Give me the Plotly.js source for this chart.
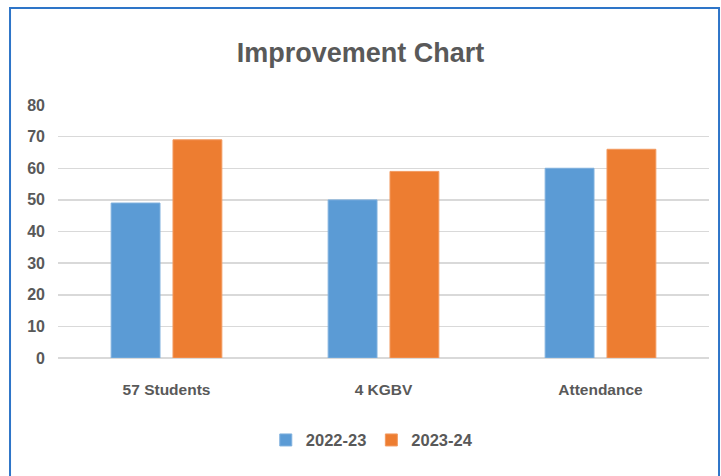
<!DOCTYPE html>
<html>
<head>
<meta charset="utf-8">
<script src="https://cdn.plot.ly/plotly-3.0.1.min.js"></script>
<style>
html,body{margin:0;padding:0;background:#fff;}
#chart{width:721px;height:476px;}
</style>
</head>
<body>
<div id="chart"></div>
<script>
const categories = ["57 Students", "4 KGBV", "Attendance"];
const seriesNames = ["2022-23", "2023-24"];
const values2022 = [49, 50, 60];
const values2023 = [69, 59, 66];
const yTicks = [0, 10, 20, 30, 40, 50, 60, 70, 80];

const FONT = '"Liberation Sans Narrow", "Liberation Sans", Arial, sans-serif';
const GREY = '#595959';

const traces = [
  {type:'bar', name:'<b>'+seriesNames[0]+'</b>', x:categories, y:values2022,
   marker:{color:'#5B9BD5', line:{color:'#7fb0de', width:1}}, hoverinfo:'none'},
  {type:'bar', name:'<b>'+seriesNames[1]+'</b>', x:categories, y:values2023,
   marker:{color:'#ED7D31', line:{color:'#f29a60', width:1}}, hoverinfo:'none'}
];

const layout = {
  width:721, height:476,
  margin:{l:58, r:12, t:105, b:118},
  paper_bgcolor:'#ffffff', plot_bgcolor:'#ffffff',
  barmode:'group', bargap:0.43, bargroupgap:0.21,
  title:{text:'<b>Improvement Chart</b>', x:0.5, xanchor:'center', y:0.89, yanchor:'middle',
         font:{family:FONT, size:27, color:GREY}},
  font:{family:FONT, color:GREY},
  xaxis:{type:'category', showgrid:false, zeroline:false, showline:false, ticks:'',
         tickvals:categories, ticktext:categories.map(c=>'<b>'+c+'</b>'),
         tickfont:{family:FONT, size:15.5, color:GREY}, ticklabelstandoff:20},
  yaxis:{range:[0,80], tickvals:yTicks, ticktext:yTicks.map(v=>'<b>'+v+'</b>'),
         showgrid:true, gridcolor:'#d9d9d9', gridwidth:1.5,
         zeroline:true, zerolinecolor:'#d9d9d9', zerolinewidth:1.5,
         showline:false, ticks:'', ticklabelstandoff:12,
         tickfont:{family:FONT, size:16, color:GREY}},
  showlegend:true,
  legend:{orientation:'h', x:0.482, xanchor:'center', y:-0.325, yanchor:'middle',
          font:{family:FONT, size:16.5, color:GREY}, itemwidth:30, traceorder:'normal'},
  shapes:[{type:'rect', xref:'paper', yref:'paper',
           x0:-0.0737, x1:1.0154, y0:-0.55, y1:1.383,
           line:{color:'#2E75C8', width:2}, fillcolor:'rgba(0,0,0,0)', layer:'above'}]
};

Plotly.newPlot('chart', traces, layout, {displayModeBar:false, staticPlot:true});
</script>
</body>
</html>
